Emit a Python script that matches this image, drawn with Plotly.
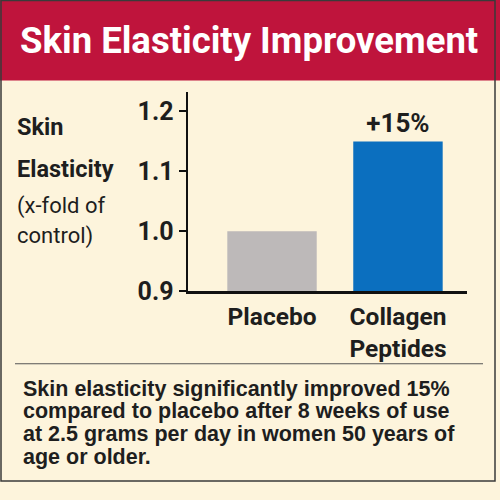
import plotly.graph_objects as go

categories = ["Placebo", "Collagen<br>Peptides"]
values = [1.0, 1.15]
bar_labels = ["", "+15%"]
bar_colors = ["#bdb9b9", "#0b6fbf"]
y_ticks = [0.9, 1.0, 1.1, 1.2]
y_tick_labels = ["0.9", "1.0", "1.1", "1.2"]
title_text = "Skin Elasticity Improvement"
y_title_lines = ["Skin", "Elasticity", "(x-fold of", "control)"]
caption_lines = [
    "Skin elasticity significantly improved 15%",
    "compared to placebo after 8 weeks of use",
    "at 2.5 grams per day in women 50 years of",
    "age or older.",
]

NARROW = "Roboto, sans-serif"
DARK = "#1e1e1e"
W, H = 500, 500

def py(pix):
    return 1 - pix / H

def px(pix):
    return pix / W

x_pos = [0, 1]
fig = go.Figure()
fig.add_trace(go.Bar(
    x=x_pos, y=values, width=0.71,
    marker=dict(color=bar_colors, line=dict(width=0)),
    text=bar_labels, textposition="outside", cliponaxis=False,
    textfont=dict(family=NARROW, size=26, color=DARK, weight="bold"),
))

shapes = [
    dict(type="rect", xref="paper", yref="paper", x0=0, x1=1, y0=py(83), y1=1,
         fillcolor="#bf143c", line=dict(width=0), layer="below"),
    dict(type="rect", xref="paper", yref="paper", x0=px(1), x1=px(495), y0=py(496), y1=py(0.5),
         fillcolor="rgba(0,0,0,0)", line=dict(color="#3a3a3a", width=1.5)),
    dict(type="line", xref="paper", yref="paper", x0=px(15), x1=px(483), y0=py(375), y1=py(375),
         line=dict(color="#555555", width=1.2)),
]

annotations = [
    dict(text=title_text, xref="paper", yref="paper", x=px(249), y=py(42),
         xanchor="center", yanchor="middle", showarrow=False,
         font=dict(family=NARROW, size=36.5, color="white", weight="bold")),
]
y_line_pos = [131, 174, 212, 243]
y_line_sizes = [23.5, 23.5, 22, 22]
for i, (t, yy, fs) in enumerate(zip(y_title_lines, y_line_pos, y_line_sizes)):
    annotations.append(dict(
        text=t, xref="paper", yref="paper", x=px(15), y=py(yy),
        xanchor="left", yanchor="middle", showarrow=False,
        font=dict(family=NARROW, size=fs, color=DARK,
                  weight="bold" if i < 2 else "normal")))
cap_pos = [401, 424, 447, 471]
for t, yy in zip(caption_lines, cap_pos):
    annotations.append(dict(
        text=t, xref="paper", yref="paper", x=px(21), y=py(yy),
        xanchor="left", yanchor="middle", showarrow=False,
        font=dict(family="Liberation Sans, Arial, sans-serif", size=21.5, color=DARK, weight="bold")))

fig.update_layout(
    width=W, height=H,
    margin=dict(l=0, r=0, t=0, b=0),
    paper_bgcolor="#fdf4dc",
    plot_bgcolor="rgba(0,0,0,0)",
    showlegend=False,
    shapes=shapes,
    annotations=annotations,
    xaxis=dict(
        domain=[px(188), px(467)],
        range=[-0.667, 1.548],
        tickvals=x_pos, ticktext=categories,
        showline=True, linecolor="#111111", linewidth=2.5,
        ticks="", showgrid=False, zeroline=False,
        ticklabelstandoff=2,
        tickfont=dict(family=NARROW, size=24.5, color=DARK, weight="bold"),
        fixedrange=True,
    ),
    yaxis=dict(
        domain=[py(300), py(95)],
        range=[0.9, 0.9 + 205 / 617],
        tickvals=y_ticks, ticktext=y_tick_labels,
        showline=True, linecolor="#111111", linewidth=2.5,
        ticks="outside", ticklen=7, tickwidth=2, tickcolor="#111111",
        showgrid=False, zeroline=False,
        tickfont=dict(family=NARROW, size=25, color=DARK, weight="bold"),
        fixedrange=True,
    ),
)

fig.write_html(
    "out.html",
    config={"displayModeBar": False, "staticPlot": True},
    post_script=(
        "document.documentElement.style.margin='0';"
        "document.body.style.margin='0';document.body.style.padding='0';"
        "var gd=document.getElementById('{plot_id}');"
        "gd.style.position='fixed';gd.style.top='0px';gd.style.left='0px';"
    ),
)
